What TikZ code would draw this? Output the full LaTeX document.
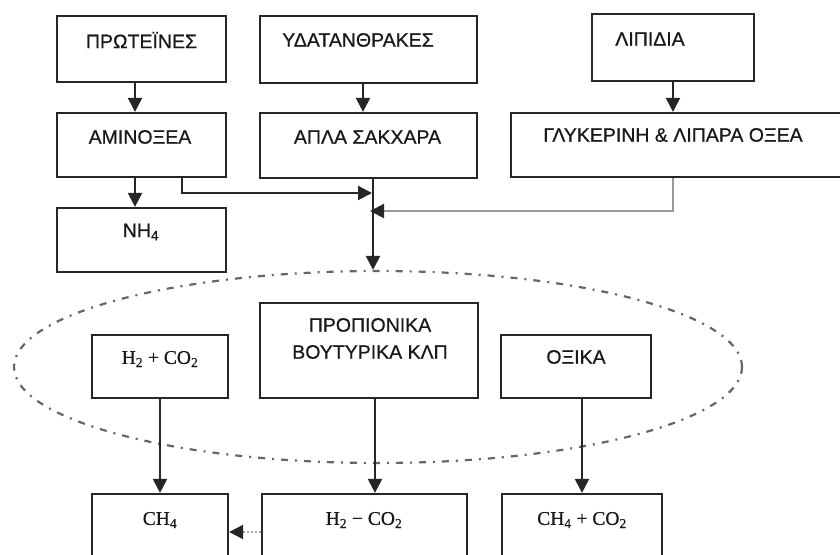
\documentclass[tikz,border=0pt]{standalone}
\usepackage{fontspec}
\setmainfont[FakeBold=0.7]{Liberation Sans}
\newfontfamily\formfont[FakeBold=0.5]{Liberation Serif}
\usetikzlibrary{arrows.meta,shapes.geometric}

\tikzset{
  stage/.style={draw=black!85, line width=2.2pt, rectangle, inner sep=0pt},
  lbl/.style={font=\fontsize{19.5}{27}\selectfont, text=black!90, inner sep=0pt, align=center},
  chem/.style={font=\formfont\fontsize{19.5}{24}\selectfont, text=black!90, inner sep=0pt},
  flow/.style={line width=2.2pt, draw=black!85, -{Triangle[length=14pt,width=14pt]}},
  sideflow/.style={line width=2pt, draw=black!40, -{Triangle[length=14pt,width=14pt,color=black!85]}},
  faintflow/.style={line width=2pt, draw=black!35, dotted, -{Triangle[length=14pt,width=14pt,color=black!85]}},
  zone/.style={draw=black!60, line width=2.2pt, dash pattern=on 7pt off 7pt on 2pt off 7pt}
}

% box from its corners (x1,y1)-(x2,y2), measured downwards from the top edge
\newcommand{\stagebox}[5]{%
  \node[stage, minimum width={(#4-#2)*1pt}, minimum height={(#5-#3)*1pt}]
    (#1) at ({(#2+#4)/2}, {-(#3+#5)/2}) {};}

\begin{document}
\begin{tikzpicture}[x=1pt, y=1pt]
\useasboundingbox (0,0) rectangle (840,-554);
\clip (0,0) rectangle (840,-554);

% stages
\stagebox{prot}{57}{16}{226}{82}
\stagebox{amino}{57}{113}{226}{177}
\stagebox{nh}{57}{208}{226}{272}
\stagebox{ydat}{260}{16}{477}{83}
\stagebox{apla}{260}{113}{477}{178}
\stagebox{lip}{592}{14}{754}{81}
\stagebox{glyk}{511}{113}{860}{177}
\stagebox{prop}{260}{303}{478}{398}
\stagebox{hco}{92}{335}{228}{398}
\stagebox{oxika}{501}{335}{651}{398}
\stagebox{meth}{92}{494}{228}{590}
\stagebox{hcob}{262}{494}{467}{590}
\stagebox{mco}{502}{494}{662}{590}

% captions
\node[lbl] (tprot) at (141.5,-40) {ΠΡΩΤΕΪΝΕΣ};
\node[lbl] (tydat) at (358,-40) {ΥΔΑΤΑΝΘΡΑΚΕΣ};
\node[lbl] (tlip) at (650,-39) {ΛΙΠΙΔΙΑ};
\node[lbl] (tamino) at (140,-137) {ΑΜΙΝΟΞΕΑ};
\node[lbl] (tapla) at (367.5,-137) {ΑΠΛΑ ΣΑΚΧΑΡΑ};
\node[lbl] (tglyk) at (673,-135) {ΓΛΥΚΕΡΙΝΗ \& ΛΙΠΑΡΑ ΟΞΕΑ};
\node[lbl] (tnh) at (141,-232) {NH\textsubscript{4}};
\node[lbl] (tprop) at (370,-338.5) {ΠΡΟΠΙΟΝΙΚΑ\\ΒΟΥΤΥΡΙΚΑ ΚΛΠ};
\node[lbl] (toxika) at (576,-357) {ΟΞΙΚΑ};
\node[chem] (thco) at (160,-359) {H\textsubscript{2} + CO\textsubscript{2}};
\node[chem] (tmeth) at (160,-520) {CH\textsubscript{4}};
\node[chem] (thcob) at (364,-520) {H\textsubscript{2} − CO\textsubscript{2}};
\node[chem] (tmco) at (582,-520) {CH\textsubscript{4} + CO\textsubscript{2}};

% acidogenic zone
\node[zone, ellipse, minimum width=728pt, minimum height=192pt, inner sep=0pt]
  (zone) at (378,-367) {};

% junction points on the collecting line
\coordinate (j1) at (373,-193);
\coordinate (j2) at (373,-211);

% hydrolysis
\draw[flow] ([xshift=-6.5pt]prot.south) -- ([xshift=-6.5pt]amino.north);
\draw[flow] ([xshift=-6.5pt]amino.south) -- ([xshift=-6.5pt]nh.north);
\draw[flow] ([xshift=-5.5pt]ydat.south) -- ([xshift=-5.5pt]apla.north);
\draw[flow] (lip.south) -- (lip.south |- glyk.north);

% collecting line into the zone
\draw[flow] ([xshift=4.5pt]apla.south) -- ([xshift=4.5pt]apla.south |- zone.north);
\draw[flow, shorten >=1pt] ([xshift=40.5pt]amino.south) |- (j1);
\draw[sideflow, shorten >=-3pt] ([xshift=-12.5pt]glyk.south) |- (j2);

% methanogenesis
\draw[flow] (hco.south) -- (meth.north);
\draw[flow] ([xshift=6pt]prop.south) -- ([xshift=6pt]prop.south |- hcob.north);
\draw[flow] (oxika.south -| mco.north) -- (mco.north);
\draw[faintflow] ([yshift=10pt]hcob.west) -- ([yshift=10pt]hcob.west -| meth.east);
\end{tikzpicture}
\end{document}
